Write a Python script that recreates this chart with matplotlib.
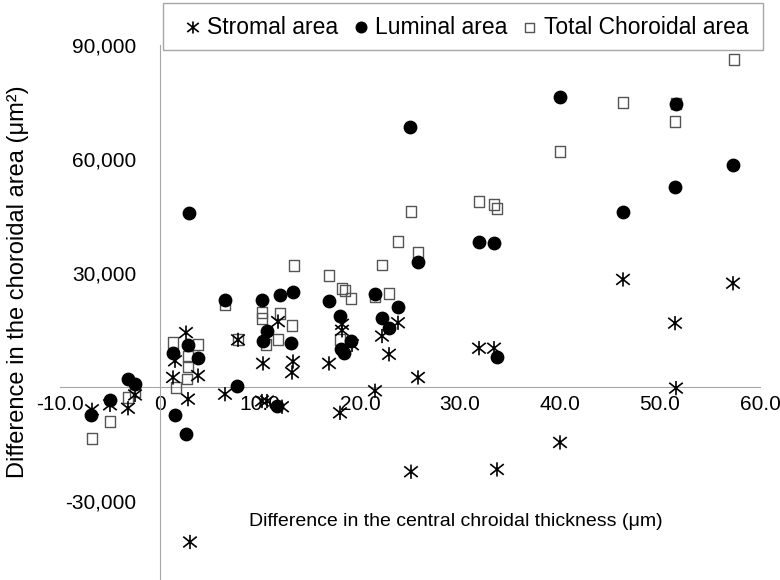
import matplotlib.pyplot as plt
import numpy as np
from matplotlib.path import Path
from matplotlib.patches import Rectangle

plt.rcParams['font.family'] = ['Liberation Sans', 'DejaVu Sans']

# difference in central choroidal thickness (um) / difference in area (um^2)
stromal_x = [-6.8, -5.0, -3.2, -2.5, 1.3, 1.5, 2.6, 2.8, 3.0, 3.8, 6.5, 7.8,
             10.2, 10.7, 10.3, 11.8, 12.2, 13.3, 13.2, 16.9, 18.0, 18.2, 18.2,
             19.2, 21.5, 22.2, 22.9, 23.8, 25.8, 25.1, 31.9, 33.4, 33.7, 40.0,
             46.3, 51.5, 51.6, 57.3]
stromal_y = [-6000, -4700, -5600, -2100, 2500, 6900, 14300, -3200, -40800, 3000,
             -1900, 12400, -3700, -3700, 6200, 17200, -5200, 6700, 3800, 6200,
             -6800, 16500, 14900, 11100, -1000, 13400, 8600, 16900, 2500, -22300,
             10200, 10200, -21700, -14600, 28300, 16800, -300, 27300]

luminal_x = [-6.9, -5.0, -3.2, -2.5, 1.5, 2.6, 1.3, 2.8, 3.8, 2.9, 6.5, 7.7,
             10.2, 10.7, 10.3, 11.7, 12.0, 13.3, 13.1, 16.9, 18.0, 18.1, 18.4,
             19.1, 21.5, 22.2, 22.9, 23.8, 25.0, 25.8, 31.9, 33.4, 33.7, 40.0,
             46.3, 51.5, 51.6, 57.3]
luminal_y = [-7400, -3400, 2100, 800, -7400, -12400, 8900, 11100, 7500, 45800,
             22900, 300, 22900, 14700, 12200, -5000, 24200, 24900, 11700, 22700,
             18800, 10000, 8900, 12200, 24600, 18200, 15600, 21100, 68300, 32800,
             38200, 37800, 8000, 76200, 46100, 52700, 74600, 58400]

total_x = [-6.8, -5.0, -3.2, -2.5, 1.3, 3.8, 2.8, 2.8, 2.7, 1.6, 6.5, 7.8,
           10.2, 10.2, 10.6, 12.0, 13.2, 11.8, 13.4, 16.9, 18.0, 18.2, 18.5,
           19.1, 21.5, 22.2, 22.9, 23.8, 25.1, 25.8, 31.9, 33.4, 33.7, 40.0,
           46.3, 51.5, 51.6, 57.4]
total_y = [-13500, -9100, -2800, -1200, 11600, 11100, 8000, 5300, 2100, -100,
           21600, 12400, 19600, 18100, 11100, 19400, 16100, 12400, 31900, 29300,
           12500, 25800, 25300, 23300, 23900, 32100, 24600, 38200, 46300, 35400,
           48800, 48100, 47000, 61900, 74800, 69800, 74600, 86100]

xticks = [-10, 0, 10, 20, 30, 40, 50, 60]
xtick_labels = ['-10.0', '0', '10.0', '20.0', '30.0', '40.0', '50.0', '60.0']
yticks = [-30000, 30000, 60000, 90000]
ytick_labels = ['-30,000', '30,000', '60,000', '90,000']

# asterisk marker: vertical bar + a wide X
star = Path([(0, -1), (0, 1), (-0.95, -0.75), (0.95, 0.75), (-0.95, 0.75), (0.95, -0.75)],
            [Path.MOVETO, Path.LINETO, Path.MOVETO, Path.LINETO, Path.MOVETO, Path.LINETO])

fig = plt.figure(figsize=(7.8, 5.8), dpi=100)
ax = fig.add_axes([60 / 780, 0, 700 / 780, 535 / 580])

ax.scatter(total_x, total_y, marker='s', s=62, facecolors='none',
           edgecolors='#555555', linewidths=1.0, label='Total Choroidal area', zorder=3)
ax.scatter(luminal_x, luminal_y, marker='o', s=80, color='black',
           label='Luminal area', zorder=4)
ax.scatter(stromal_x, stromal_y, marker=star, s=105, facecolors='none',
           edgecolors='black', linewidths=1.2, label='Stromal area', zorder=5)

ax.set_xlim(-10, 60)
ax.set_ylim(-50800, 90000)

for s in ['top', 'right']:
    ax.spines[s].set_visible(False)
ax.spines['left'].set_position(('data', 0))
ax.spines['bottom'].set_position(('data', 0))
ax.spines['left'].set_color('#a6a6a6')
ax.spines['bottom'].set_color('#a6a6a6')

ax.set_xticks(xticks)
ax.set_xticklabels(xtick_labels)
ax.set_yticks(yticks)
ax.set_yticklabels(ytick_labels)
ax.tick_params(axis='both', length=0, labelsize=15)
ax.tick_params(axis='x', pad=6)
ax.tick_params(axis='y', pad=17)
ax.patch.set_alpha(0)

fig.text(456 / 780, 1 - 522 / 580, 'Difference in the central chroidal thickness (μm)',
         ha='center', va='center', fontsize=14)
fig.text(18 / 780, 1 - 282 / 580, 'Difference in the choroidal area (μm²)',
         ha='center', va='center', fontsize=17, rotation=90)

h, l = ax.get_legend_handles_labels()
order = [2, 1, 0]
leg = fig.legend([h[i] for i in order], [l[i] for i in order], loc='center',
                 bbox_to_anchor=(466 / 780, 1 - 27 / 580), ncol=3, frameon=False,
                 fontsize=16.5, markerscale=0.85, handletextpad=0.2, columnspacing=0.6,
                 handlelength=0.8)
fig.patches.append(Rectangle((163 / 780, 1 - 50 / 580), 600 / 780, 47 / 580,
                             transform=fig.transFigure, fill=False,
                             edgecolor='#a6a6a6', linewidth=1.0))

fig.savefig('out.png', dpi=100)
